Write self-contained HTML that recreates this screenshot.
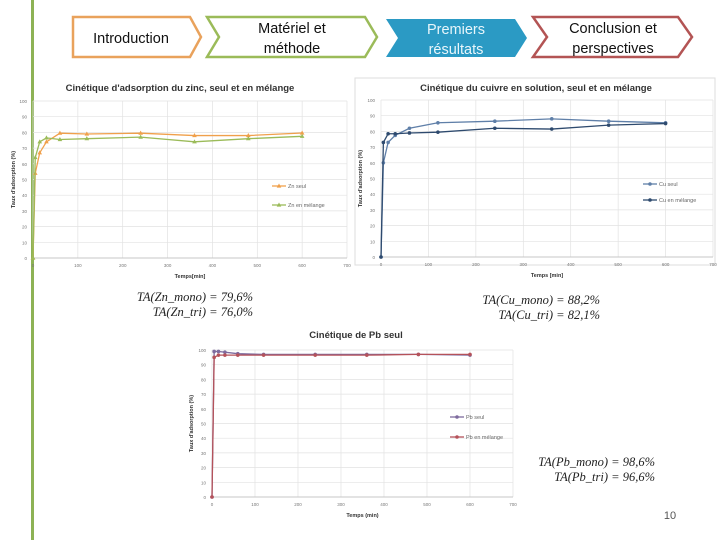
<!DOCTYPE html>
<html><head><meta charset="utf-8"><style>
body{margin:0;width:720px;height:540px;background:#fff;position:relative;overflow:hidden;font-family:"Liberation Sans",sans-serif}
.f{position:absolute;font-family:"Liberation Serif",serif;font-style:italic;font-size:12.5px;color:#222;text-align:right;line-height:15px}
</style></head><body>
<div style="position:absolute;left:31px;top:0;width:3px;height:540px;background:#8db255"></div>
<svg width="720" height="540" style="position:absolute;left:0;top:0" font-family="Liberation Sans, sans-serif">
<g>
<polygon points="73,17 190,17 201,37 190,57 73,57" fill="#fff" stroke="#e9a25c" stroke-width="2.5"/>
<text x="131" y="43" font-size="14.5" text-anchor="middle" fill="#111">Introduction</text></g>
<g>
<polygon points="207,17 365,17 377,37 365,57 207,57 219,37" fill="#fff" stroke="#9bbb59" stroke-width="2.5"/>
<text x="292" y="33" font-size="14.5" text-anchor="middle" fill="#111">Matériel et</text>
<text x="292" y="53" font-size="14.5" text-anchor="middle" fill="#111">méthode</text></g>
<g>
<polygon points="386,19 515,19 527,38 515,57 386,57 398,38" fill="#2b9ac4"/>
<text x="456" y="34" font-size="14.5" text-anchor="middle" fill="#e8f6fb">Premiers</text>
<text x="456" y="54" font-size="14.5" text-anchor="middle" fill="#e8f6fb">résultats</text></g>
<g>
<polygon points="533,17 678,17 692,37 678,57 533,57 547,37" fill="#fff" stroke="#b35454" stroke-width="2.5"/>
<text x="613" y="33" font-size="14.5" text-anchor="middle" fill="#111">Conclusion et</text>
<text x="613" y="53" font-size="14.5" text-anchor="middle" fill="#111">perspectives</text></g>
<g id="charts"></g>
<text x="670" y="519" font-size="11" text-anchor="middle" fill="#555">10</text>
</svg>
<div class="f" style="left:110px;top:290px;width:143px">TA(Zn_mono) = 79,6%<br>TA(Zn_tri) = 76,0%</div>
<div class="f" style="left:455px;top:293px;width:145px">TA(Cu_mono) = 88,2%<br>TA(Cu_tri) = 82,1%</div>
<div class="f" style="left:510px;top:455px;width:145px">TA(Pb_mono) = 98,6%<br>TA(Pb_tri) = 96,6%</div>
<script>
const times=[0,5,15,30,60,120,240,360,480,600];
const znSeul=[0,54,67,74,79.5,79,79.5,78,78,79.6];
const znMel=[0,64,74,76.5,75.5,76,77,74,76,77.5];
const cuSeul=[0,60,73,77.5,82,85.5,86.5,88,86.5,85.5];
const cuMel=[0,73,78.5,78.5,79,79.5,82,81.5,84,85];
const pbSeul=[0,99,99,98.5,97.5,97,97,97,97,96.5];
const pbMel=[0,95,96.5,96.5,96.5,96.5,96.5,96.5,97,97];
const xTicks=[0,100,200,300,400,500,600,700];
const yTicks=[0,10,20,30,40,50,60,70,80,90,100];
const NS="http://www.w3.org/2000/svg";
const root=document.getElementById('charts');
function mk(t,a,p){const e=document.createElementNS(NS,t);for(const k in a)e.setAttribute(k,a[k]);(p||root).appendChild(e);return e;}
function marker(g,x,y,c,shape){
  if(shape==='tri')return mk('polygon',{points:`${x},${y-2.5} ${x+2.3},${y+1.6} ${x-2.3},${y+1.6}`,fill:c},g);
  return mk('circle',{cx:x,cy:y,r:1.8,fill:c},g);
}
function chart(c){
  const g=mk('g',{});
  
  
  if(c.box)mk('rect',{x:c.box[0],y:c.box[1],width:c.box[2],height:c.box[3],fill:'none',stroke:'#ddd'},g);
  const sx=v=>c.x0+(c.x1-c.x0)*v/700, sy=v=>c.y0-(c.y0-c.y1)*v/100;
  yTicks.forEach(v=>{mk('line',{x1:c.x0,x2:c.x1,y1:sy(v),y2:sy(v),stroke:'#e2e2e2','stroke-width':0.7},g);
    const t=mk('text',{x:c.x0-6,y:sy(v)+2,'font-size':4.5,'text-anchor':'end',fill:'#777'},g);t.textContent=v;});
  xTicks.forEach(v=>{mk('line',{x1:sx(v),x2:sx(v),y1:c.y0,y2:c.y1,stroke:'#e2e2e2','stroke-width':0.7},g);
    const t=mk('text',{x:sx(v),y:c.y0+9,'font-size':4.5,'text-anchor':'middle',fill:'#777'},g);t.textContent=v;});
  mk('line',{x1:c.x0,x2:c.x1,y1:c.y0,y2:c.y0,stroke:'#bbb','stroke-width':0.8},g);
  let t=mk('text',{x:c.tx,y:c.ty,'font-size':9.5,'font-weight':'bold','text-anchor':'middle',fill:'#333'},g);t.textContent=c.title;
  
  t=mk('text',{x:(c.x0+c.x1)/2,y:c.y0+20,'font-size':5.5,'font-weight':'bold','text-anchor':'middle',fill:'#333'},g);t.textContent=c.xt;
  
  const ym=(c.y0+c.y1)/2;
  t=mk('text',{x:c.yx,y:ym,'font-size':5.5,'font-weight':'bold','text-anchor':'middle',fill:'#333',transform:`rotate(-90 ${c.yx} ${ym})`},g);t.textContent=c.yt;
  
  c.series.forEach((s,i)=>{
    const pts=times.map((tm,j)=>sx(tm)+','+sy(s.v[j])).join(' ');
    const l=mk('polyline',{points:pts,fill:'none',stroke:s.c,'stroke-width':1.3},g);
    
    times.forEach((tm,j)=>{const m=marker(g,sx(tm),sy(s.v[j]),s.c,c.shape);
      });
    const ly=c.ly+i*c.lg;
    const le=mk('g',{},g);
    mk('line',{x1:c.lx,x2:c.lx+14,y1:ly,y2:ly,stroke:s.c,'stroke-width':1.3},le);
    marker(le,c.lx+7,ly,s.c,c.shape);
    const lt=mk('text',{x:c.lx+16,y:ly+2,'font-size':5.5,fill:'#666'},le);lt.textContent=s.n;
  });
}
chart({name:'zinc-chart',shape:'tri',x0:33,x1:347,y0:258,y1:101,tx:180,ty:91,title:"Cinétique d'adsorption du zinc, seul et en mélange",xt:'Temps[min]',yt:"Taux d'adsorption (%)",yx:15,lx:272,ly:186,lg:19,
 series:[{id:'zn-seul',n:'Zn seul',c:'#f0a04b',v:znSeul},{id:'zn-melange',n:'Zn en mélange',c:'#9bbb59',v:znMel}]});
chart({name:'cuivre-chart',box:[355,78,360,187],x0:381,x1:713,y0:257,y1:100,tx:536,ty:91,title:'Cinétique du cuivre en solution, seul et en mélange',xt:'Temps [min]',yt:"Taux d'adsorption (%)",yx:362,lx:643,ly:184,lg:16,
 series:[{id:'cu-seul',n:'Cu seul',c:'#5f7fa8',v:cuSeul},{id:'cu-melange',n:'Cu en mélange',c:'#2e4a6e',v:cuMel}]});
chart({name:'plomb-chart',x0:212,x1:513,y0:497,y1:350,tx:356,ty:338,title:'Cinétique de Pb seul',xt:'Temps (min)',yt:"Taux d'adsorption (%)",yx:193,lx:450,ly:417,lg:20,
 series:[{id:'pb-seul',n:'Pb seul',c:'#7e6b9e',v:pbSeul},{id:'pb-melange',n:'Pb en mélange',c:'#b5525a',v:pbMel}]});
</script>
</body></html>
